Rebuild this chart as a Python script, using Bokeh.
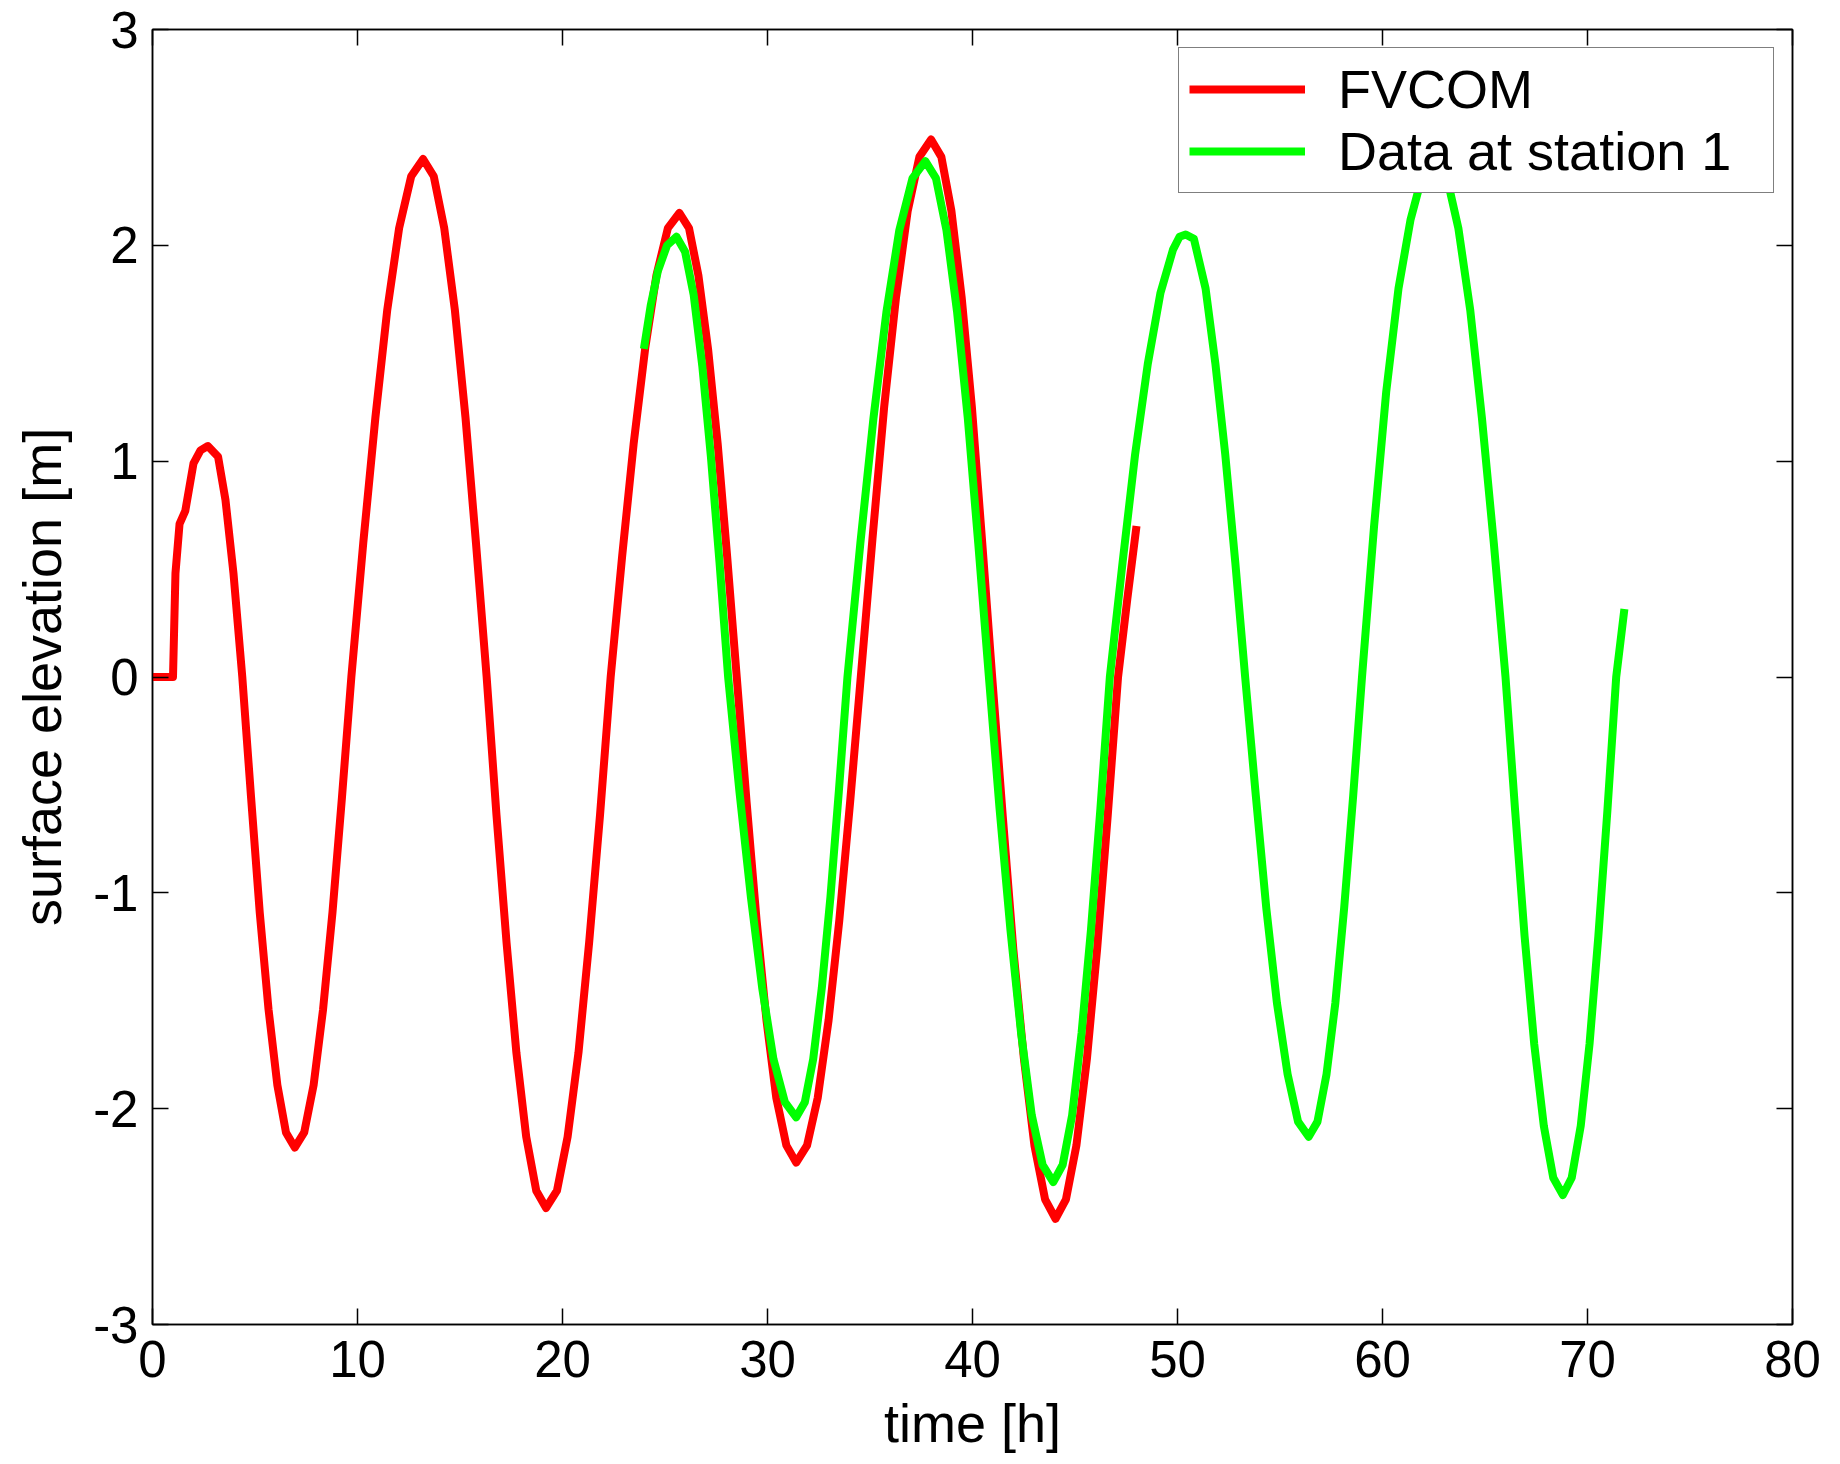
from bokeh.plotting import figure
from bokeh.models import (LinearAxis, FixedTicker, Range1d, Legend, LegendItem,
                          CustomJSTickFormatter)
from bokeh.embed import file_html
from bokeh.resources import INLINE

# ---- data ----
fvcom_t = [0.0, 0.5, 1.0, 1.05, 1.12, 1.32, 1.6, 2.0, 2.34, 2.7, 3.2, 3.56, 3.95, 4.38,
           4.81, 5.23, 5.66, 6.09, 6.51, 6.94,
           7.40, 7.86, 8.32, 8.78, 9.24, 9.70,
           10.28, 10.87, 11.45, 12.03, 12.62, 13.2,
           13.72, 14.23, 14.75, 15.27, 15.78, 16.3,
           16.78, 17.27, 17.75, 18.23, 18.72, 19.2,
           19.73, 20.25, 20.78, 21.3, 21.83, 22.35,
           22.91, 23.47, 24.03, 24.58, 25.14, 25.7,
           26.17, 26.63, 27.1, 27.57, 28.03, 28.5,
           28.98, 29.47, 29.95, 30.43, 30.92, 31.4,
           31.93, 32.45, 32.98, 33.5, 34.03, 34.55,
           35.12, 35.69, 36.27, 36.84, 37.41, 37.98,
           38.48, 38.97, 39.47, 39.97, 40.46, 40.96,
           41.48, 41.99, 42.51, 43.02, 43.54, 44.05,
           44.56, 45.07, 45.58, 46.08, 46.59, 47.1,
           47.55, 48.0]
fvcom_v = [0.0, 0.0, 0.0, 0.2, 0.48, 0.71, 0.77, 0.99, 1.05, 1.07, 1.02, 0.82, 0.48, 0.0,
           -0.56, -1.09, -1.54, -1.89, -2.11, -2.18,
           -2.11, -1.89, -1.54, -1.09, -0.56, 0.0,
           0.62, 1.20, 1.70, 2.08, 2.32, 2.40,
           2.32, 2.08, 1.70, 1.20, 0.62, 0.0,
           -0.64, -1.23, -1.74, -2.13, -2.38, -2.46,
           -2.38, -2.13, -1.74, -1.23, -0.64, 0.0,
           0.56, 1.08, 1.52, 1.86, 2.08, 2.15,
           2.08, 1.86, 1.52, 1.08, 0.56, 0.0,
           -0.58, -1.13, -1.59, -1.95, -2.17, -2.25,
           -2.17, -1.95, -1.59, -1.13, -0.58, 0.0,
           0.64, 1.25, 1.76, 2.16, 2.41, 2.49,
           2.41, 2.16, 1.76, 1.25, 0.64, 0.0,
           -0.65, -1.26, -1.77, -2.17, -2.42, -2.51,
           -2.42, -2.17, -1.77, -1.26, -0.65, 0.0,
           0.36, 0.70]

data_t = [23.97, 24.3, 24.65, 25.1, 25.56,
          25.98, 26.4, 26.82, 27.24, 27.66, 28.08,
          28.63, 29.19, 29.74, 30.29, 30.85, 31.4,
          31.82, 32.23, 32.65, 33.07, 33.48, 33.9,
          34.53, 35.17, 35.8, 36.43, 37.07, 37.7,
          38.22, 38.73, 39.25, 39.77, 40.28, 40.8,
          41.32, 41.85, 42.37, 42.89, 43.42, 43.94,
          44.4, 44.86, 45.32, 45.78, 46.24, 46.7,
          47.32, 47.93, 48.55, 49.17, 49.78, 50.1, 50.4, 50.8,
          51.37, 51.85, 52.33, 52.82, 53.3,
          53.82, 54.33, 54.85, 55.37, 55.88, 56.4,
          56.83, 57.27, 57.7, 58.13, 58.57, 59.0,
          59.59, 60.18, 60.78, 61.37, 61.96, 62.55,
          63.13, 63.7, 64.28, 64.85, 65.43, 66.0,
          66.47, 66.93, 67.4, 67.87, 68.33, 68.8,
          69.23, 69.67, 70.1, 70.53, 70.97, 71.4, 71.8]
data_v = [1.52, 1.72, 1.88, 2.0, 2.04,
          1.97, 1.77, 1.44, 1.02, 0.53, 0.0,
          -0.53, -1.02, -1.44, -1.77, -1.97, -2.04,
          -1.97, -1.77, -1.44, -1.02, -0.53, 0.0,
          0.62, 1.20, 1.69, 2.07, 2.31, 2.39,
          2.31, 2.07, 1.69, 1.20, 0.62, 0.0,
          -0.61, -1.17, -1.65, -2.03, -2.26, -2.34,
          -2.26, -2.03, -1.65, -1.17, -0.61, 0.0,
          0.53, 1.03, 1.45, 1.78, 1.98, 2.04, 2.05, 2.03,
          1.80, 1.45, 1.03, 0.53, 0.0,
          -0.55, -1.07, -1.51, -1.84, -2.06, -2.13,
          -2.06, -1.84, -1.51, -1.07, -0.55, 0.0,
          0.70, 1.32, 1.80, 2.12, 2.33, 2.40,
          2.32, 2.08, 1.70, 1.20, 0.62, 0.0,
          -0.62, -1.20, -1.70, -2.08, -2.32, -2.40,
          -2.32, -2.08, -1.70, -1.20, -0.62, 0.0, 0.315]

x_ticks = [0, 10, 20, 30, 40, 50, 60, 70, 80]
y_ticks = [-3, -2, -1, 0, 1, 2, 3]
series_names = ["FVCOM", "Data at station 1"]

FONT = "Liberation Sans"

p = figure(width=1840, height=1464, output_backend="svg", toolbar_location=None,
           x_range=Range1d(0, 80), y_range=Range1d(-3, 3),
           min_border_left=152, min_border_top=29, min_border_right=48,
           min_border_bottom=140, background_fill_color="white",
           border_fill_color="white", x_axis_label="time [h]",
           y_axis_label="surface elevation [m]")
p.xgrid.visible = False
p.ygrid.visible = False
p.outline_line_color = "black"
p.outline_line_width = 1.5

plain = CustomJSTickFormatter(code="return tick.toFixed(0)")
for ax, ticks in ((p.xaxis[0], x_ticks), (p.yaxis[0], y_ticks)):
    ax.ticker = FixedTicker(ticks=ticks)
    ax.formatter = plain
    ax.major_tick_in = 16
    ax.major_tick_out = 0
    ax.minor_tick_line_color = None
    ax.axis_line_color = "black"
    ax.axis_line_width = 1.5
    ax.major_tick_line_width = 1.5
    ax.major_label_text_font = FONT
    ax.major_label_text_font_size = "51px"
    ax.major_label_text_color = "black"
    ax.axis_label_text_font = FONT
    ax.axis_label_text_font_size = "54px"
    ax.axis_label_text_font_style = "normal"
    ax.axis_label_text_color = "black"

p.xaxis[0].major_label_standoff = 16
p.xaxis[0].axis_label_standoff = 13
p.yaxis[0].major_label_standoff = 14
p.yaxis[0].axis_label_standoff = 18

blank = CustomJSTickFormatter(code="return ''")
top = LinearAxis(ticker=FixedTicker(ticks=x_ticks), formatter=blank,
                 major_tick_in=16, major_tick_out=0, minor_tick_line_color=None,
                 major_label_standoff=0, major_label_text_font_size="1px",
                 axis_line_width=1.5, major_tick_line_width=1.5)
right = LinearAxis(ticker=FixedTicker(ticks=y_ticks), formatter=blank,
                   major_tick_in=16, major_tick_out=0, minor_tick_line_color=None,
                   major_label_standoff=0, major_label_text_font_size="1px",
                   axis_line_width=1.5, major_tick_line_width=1.5)
p.add_layout(top, "above")
p.add_layout(right, "right")

r1 = p.line(fvcom_t, fvcom_v, line_color="#FF0000", line_width=8, line_join="round")
r2 = p.line(data_t, data_v, line_color="#00FF00", line_width=8, line_join="round")

legend = Legend(items=[LegendItem(label=series_names[0], renderers=[r1]),
                       LegendItem(label=series_names[1], renderers=[r2])],
                location="top_right", margin=18, padding=10, spacing=0,
                glyph_width=116, glyph_height=50, label_standoff=33,
                label_width=425, label_height=50,
                label_text_font=FONT, label_text_font_size="54px",
                label_text_color="black",
                border_line_color="black", border_line_width=1.5,
                background_fill_color="white", background_fill_alpha=1.0)
p.add_layout(legend, "center")

open("out.html", "w").write(file_html(p, INLINE))
